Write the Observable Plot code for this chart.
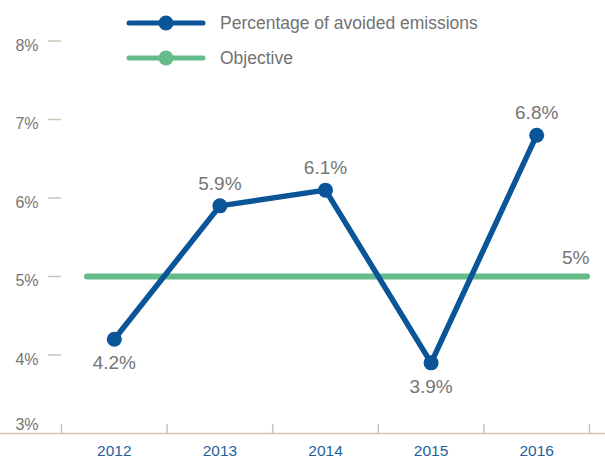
<!DOCTYPE html>
<html>
<head>
<meta charset="utf-8">
<script src="https://cdn.jsdelivr.net/npm/d3@7"></script>
<script src="https://cdn.jsdelivr.net/npm/@observablehq/plot@0.6"></script>
<style>
  html, body { margin: 0; padding: 0; background: #fff; }
  #wrap { position: relative; width: 605px; height: 461px; font-family: "Liberation Sans", Helvetica, Arial, sans-serif; }
  #legend { position: absolute; left: 0; top: 0; }
  .item { position: absolute; left: 124px; height: 20px; display: flex; align-items: center; white-space: nowrap; }
  .item span { margin-left: 12px; font-size: 17.5px; color: #727272; }
</style>
</head>
<body>
<div id="wrap">
  <div id="chart"></div>
  <div id="legend"></div>
</div>
<script>
const years = [2012, 2013, 2014, 2015, 2016];
const avoided = [4.2, 5.9, 6.1, 3.9, 6.8];
const objective = 5;
const yTicks = [3, 4, 5, 6, 7, 8];
const seriesNames = ["Percentage of avoided emissions", "Objective"];
const seriesColors = ["#0a5597", "#66bb8a"];

const data = years.map((year, i) => ({year, value: avoided[i]}));
const boundaries = [years[0] - 0.5, ...years.map(y => y + 0.5)];

const W = 605, H = 461, mL = 61, mR = 16, mT = 40.5, mB = 28;
const frameH = H - mT - mB;
const grey = "#cdc3b9";
const textGrey = "#767676";

const chart = Plot.plot({
  width: W, height: H,
  marginLeft: mL, marginRight: mR, marginTop: mT, marginBottom: mB,
  style: {fontFamily: "'Liberation Sans', Helvetica, Arial, sans-serif", background: "#fff", overflow: "visible"},
  x: {domain: [boundaries[0], boundaries[boundaries.length - 1]], label: null},
  y: {domain: [yTicks[0], yTicks[yTicks.length - 1]], label: null},
  marks: [
    // baseline
    Plot.ruleY([yTicks[0]], {stroke: grey, strokeWidth: 1.5, insetLeft: -mL, insetRight: -mR}),
    // category boundary ticks
    Plot.ruleX(boundaries, {x: d => d, stroke: grey, strokeWidth: 1.5, insetTop: frameH - 9}),
    // y ticks
    Plot.axisY(yTicks.slice(1), {anchor: "left", tickSize: 13, stroke: grey, strokeWidth: 1.5, fill: "none", label: null}),
    // y labels
    Plot.axisY(yTicks.slice(1), {anchor: "left", tickSize: 13, tickPadding: 10, stroke: "none", fill: textGrey, fontSize: 16, dy: 4.5, tickFormat: d => d + "%", label: null}),
    Plot.axisY(yTicks.slice(0, 1), {anchor: "left", tickSize: 13, tickPadding: 10, stroke: "none", fill: textGrey, fontSize: 16, dy: -9, tickFormat: d => d + "%", label: null}),
    // x labels
    Plot.axisX(years, {anchor: "bottom", tickSize: 0, tickPadding: 11, fill: "#1f5f9e", fontSize: 15.5, tickFormat: d => String(d), label: null}),
    // objective
    Plot.ruleY([objective], {stroke: seriesColors[1], strokeWidth: 6, strokeLinecap: "round", insetLeft: 26, insetRight: 2}),
    Plot.text([objective], {y: d => d, frameAnchor: "right", textAnchor: "end", dy: -19, text: d => d + "%", fill: textGrey, fontSize: 19}),
    // series
    Plot.line(data, {x: "year", y: "value", stroke: seriesColors[0], strokeWidth: 5.5, strokeLinejoin: "round"}),
    Plot.dot(data, {x: "year", y: "value", r: 7.5, fill: seriesColors[0], stroke: "none"}),
    Plot.text(data.filter(d => d.value >= objective), {x: "year", y: "value", text: d => d.value.toFixed(1) + "%", dy: -22, fill: textGrey, fontSize: 19}),
    Plot.text(data.filter(d => d.value < objective), {x: "year", y: "value", text: d => d.value.toFixed(1) + "%", dy: 24, fill: textGrey, fontSize: 19})
  ]
});
document.getElementById("chart").appendChild(chart);

// legend
const legend = document.getElementById("legend");
const tops = [13, 48];
seriesNames.forEach((name, i) => {
  const item = document.createElement("div");
  item.className = "item";
  item.style.top = tops[i] + "px";
  item.innerHTML = `<svg width="84" height="20"><line x1="5" y1="10" x2="79" y2="10" stroke="${seriesColors[i]}" stroke-width="5" stroke-linecap="round"/><circle cx="42" cy="10" r="7.5" fill="${seriesColors[i]}"/></svg><span>${name}</span>`;
  legend.appendChild(item);
});
</script>
</body>
</html>
